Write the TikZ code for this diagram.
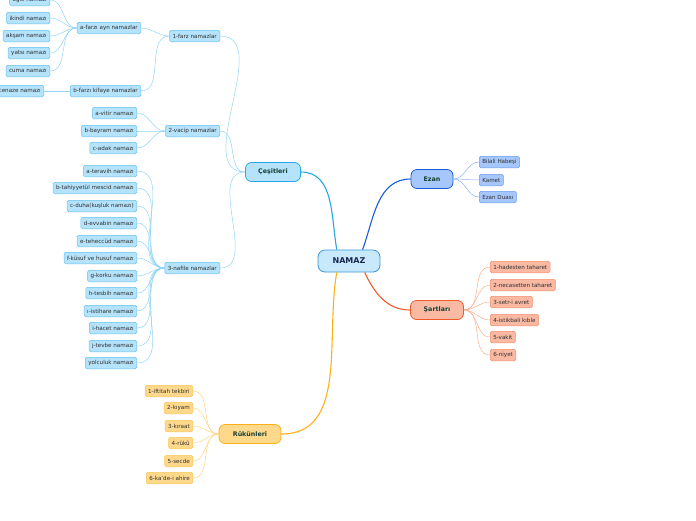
\documentclass[tikz,border=0pt]{standalone}
\usepackage{fontspec}
\setmainfont{DejaVu Sans}
\usetikzlibrary{positioning}

\definecolor{rootfill}{HTML}{C8E9FB}
\definecolor{rootdraw}{HTML}{3C94D6}
\definecolor{roottext}{HTML}{17284F}
\definecolor{maintext}{HTML}{153F32}
\definecolor{leaftext}{HTML}{2E2E2E}
\definecolor{cline}{HTML}{27A6E0}
\definecolor{cfill}{HTML}{B5E3FB}
\definecolor{cdraw}{HTML}{63C2EE}
\definecolor{cwire}{HTML}{92D5F4}
\definecolor{eline}{HTML}{1A5BD6}
\definecolor{efill}{HTML}{A6C7FB}
\definecolor{edraw}{HTML}{6D9BEE}
\definecolor{ewire}{HTML}{8EB2F1}
\definecolor{sline}{HTML}{F05A28}
\definecolor{sfill}{HTML}{F9B9A3}
\definecolor{sdraw}{HTML}{F48D69}
\definecolor{swire}{HTML}{F8AE94}
\definecolor{rline}{HTML}{FBB117}
\definecolor{rfill}{HTML}{FFD98B}
\definecolor{rdraw}{HTML}{FBC555}
\definecolor{rwire}{HTML}{FDD68A}

\begin{document}
\begin{tikzpicture}[x=1pt,y=-1pt,
  root/.style={draw=rootdraw,fill=rootfill,rounded corners=7pt,line width=0.8pt,
    minimum width=62pt,minimum height=22pt,text=roottext,
    font=\fontsize{8}{9}\selectfont\bfseries},
  topic/.style={rounded corners=6pt,line width=0.8pt,minimum height=19pt,
    text=maintext,font=\fontsize{6.3}{7}\selectfont\bfseries},
  leaf/.style={rounded corners=1.5pt,line width=0.5pt,minimum height=11.5pt,
    inner xsep=3pt,inner ysep=0pt,text=leaftext,font=\fontsize{5.6}{6}\selectfont},
  cleaf/.style={leaf,draw=cdraw,fill=cfill},
  eleaf/.style={leaf,draw=edraw,fill=efill},
  sleaf/.style={leaf,draw=sdraw,fill=sfill},
  rleaf/.style={leaf,draw=rdraw,fill=rfill},
  wire/.style={line width=0.5pt}]
\useasboundingbox (0,0) rectangle (696,520);

% center and main topics
\node[root] (namaz) at (349,261) {NAMAZ};
\node[topic,draw=cline,fill=cfill,minimum width=55pt] (cesit) at (273,172) {Çeşitleri};
\node[topic,draw=eline,fill=efill,minimum width=42pt] (ezan) at (432,179) {Ezan};
\node[topic,draw=sline,fill=sfill,minimum width=53pt] (sart) at (437,310) {Şartları};
\node[topic,draw=rline,fill=rfill,minimum width=62pt] (rukun) at (250,434) {Rükünleri};

\draw[cline,line width=1.1pt] (namaz.137) to[out=100,in=0] (cesit.east);
\draw[eline,line width=1.1pt] (namaz.40) to[out=70,in=180] (ezan.west);
\draw[sline,line width=1.1pt] (namaz.-36) to[out=-65,in=180] (sart.west);
\draw[rline,line width=1.1pt] (namaz.223) to[out=-100,in=0] (rukun.east);

% Çeşitleri
\node[cleaf,anchor=east] (farz) at (220,36) {1-farz namazlar};
\node[cleaf,anchor=east] (vacip) at (220,131) {2-vacip namazlar};
\node[cleaf,anchor=east] (nafile) at (220,268) {3-nafile namazlar};
\draw[wire,cwire] (cesit.west) to[out=180,in=0] (farz.east);
\draw[wire,cwire] (cesit.west) to[out=180,in=0] (vacip.east);
\draw[wire,cwire] (cesit.west) to[out=180,in=0] (nafile.east);

\node[cleaf,anchor=east] (ayn) at (141,28) {a-farzı ayn namazlar};
\node[cleaf,anchor=east] (kifaye) at (141,91) {b-farzı kifaye namazlar};
\draw[wire,cwire] (farz.west) to[out=180,in=0] (ayn.east);
\draw[wire,cwire] (farz.west) to[out=180,in=0] (kifaye.east);

\node[cleaf,anchor=east] (ogle) at (50,0) {öğle namazı};
\node[cleaf,anchor=east] (ikindi) at (50,18) {ikindi namazı};
\node[cleaf,anchor=east] (aksam) at (50,36) {akşam namazı};
\node[cleaf,anchor=east] (yatsi) at (50,53) {yatsı namazı};
\node[cleaf,anchor=east] (cuma) at (50,71) {cuma namazı};
\node[cleaf,anchor=east] (cenaze) at (44,91) {cenaze namazı};
\draw[wire,cwire] (ayn.west) to[out=180,in=0] (ogle.east);
\draw[wire,cwire] (ayn.west) to[out=180,in=0] (ikindi.east);
\draw[wire,cwire] (ayn.west) to[out=180,in=0] (aksam.east);
\draw[wire,cwire] (ayn.west) to[out=180,in=0] (yatsi.east);
\draw[wire,cwire] (ayn.west) to[out=180,in=0] (cuma.east);
\draw[wire,cwire] (kifaye.west) -- (cenaze.east);

\node[cleaf,anchor=east] (vitir) at (137,113) {a-vitir namazı};
\node[cleaf,anchor=east] (bayram) at (137,131) {b-bayram namazı};
\node[cleaf,anchor=east] (adak) at (137,148) {c-adak namazı};
\draw[wire,cwire] (vacip.west) to[out=180,in=0] (vitir.east);
\draw[wire,cwire] (vacip.west) to[out=180,in=0] (bayram.east);
\draw[wire,cwire] (vacip.west) to[out=180,in=0] (adak.east);

\node[cleaf,anchor=east] (n1) at (137,171) {a-teravih namazı};
\node[cleaf,anchor=east] (n2) at (137,188) {b-tahiyyetül mescid namazı};
\node[cleaf,anchor=east] (n3) at (137,206) {c-duha(kuşluk namazı)};
\node[cleaf,anchor=east] (n4) at (137,223) {d-evvabin namazı};
\node[cleaf,anchor=east] (n5) at (137,241) {e-teheccüd namazı};
\node[cleaf,anchor=east] (n6) at (137,258) {f-küsuf ve husuf namazı};
\node[cleaf,anchor=east] (n7) at (137,276) {g-korku namazı};
\node[cleaf,anchor=east] (n8) at (137,293) {h-tesbih namazı};
\node[cleaf,anchor=east] (n9) at (137,311) {ı-istihare namazı};
\node[cleaf,anchor=east] (n10) at (137,328) {i-hacet namazı};
\node[cleaf,anchor=east] (n11) at (137,346) {j-tevbe namazı};
\node[cleaf,anchor=east] (n12) at (137,363) {yolculuk namazı};
\draw[wire,cwire] (nafile.west) to[out=180,in=0] (n1.east);
\draw[wire,cwire] (nafile.west) to[out=180,in=0] (n2.east);
\draw[wire,cwire] (nafile.west) to[out=180,in=0] (n3.east);
\draw[wire,cwire] (nafile.west) to[out=180,in=0] (n4.east);
\draw[wire,cwire] (nafile.west) to[out=180,in=0] (n5.east);
\draw[wire,cwire] (nafile.west) to[out=180,in=0] (n6.east);
\draw[wire,cwire] (nafile.west) to[out=180,in=0] (n7.east);
\draw[wire,cwire] (nafile.west) to[out=180,in=0] (n8.east);
\draw[wire,cwire] (nafile.west) to[out=180,in=0] (n9.east);
\draw[wire,cwire] (nafile.west) to[out=180,in=0] (n10.east);
\draw[wire,cwire] (nafile.west) to[out=180,in=0] (n11.east);
\draw[wire,cwire] (nafile.west) to[out=180,in=0] (n12.east);

% Ezan
\node[eleaf,anchor=west] (bilal) at (479,162) {Bilali Habeşi};
\node[eleaf,anchor=west] (kamet) at (479,180) {Kamet};
\node[eleaf,anchor=west] (dua) at (479,197) {Ezan Duası};
\draw[wire,ewire] (ezan.east) to[out=0,in=180] (bilal.west);
\draw[wire,ewire] (ezan.east) to[out=0,in=180] (kamet.west);
\draw[wire,ewire] (ezan.east) to[out=0,in=180] (dua.west);

% Şartları
\node[sleaf,anchor=west] (s1) at (490,267) {1-hadesten taharet};
\node[sleaf,anchor=west] (s2) at (490,285) {2-necasetten taharet};
\node[sleaf,anchor=west] (s3) at (490,302) {3-setr-i avret};
\node[sleaf,anchor=west] (s4) at (490,320) {4-istikbali kıble};
\node[sleaf,anchor=west] (s5) at (490,337) {5-vakit};
\node[sleaf,anchor=west] (s6) at (490,355) {6-niyet};
\draw[wire,swire] (sart.east) to[out=0,in=180] (s1.west);
\draw[wire,swire] (sart.east) to[out=0,in=180] (s2.west);
\draw[wire,swire] (sart.east) to[out=0,in=180] (s3.west);
\draw[wire,swire] (sart.east) to[out=0,in=180] (s4.west);
\draw[wire,swire] (sart.east) to[out=0,in=180] (s5.west);
\draw[wire,swire] (sart.east) to[out=0,in=180] (s6.west);

% Rükünleri
\node[rleaf,anchor=east] (r1) at (193,391) {1-iftitah tekbiri};
\node[rleaf,anchor=east] (r2) at (193,408) {2-kıyam};
\node[rleaf,anchor=east] (r3) at (193,426) {3-kıraat};
\node[rleaf,anchor=east] (r4) at (193,443) {4-rükû};
\node[rleaf,anchor=east] (r5) at (193,461) {5-secde};
\node[rleaf,anchor=east] (r6) at (193,478) {6-ka'de-i ahire};
\draw[wire,rwire] (rukun.west) to[out=180,in=0] (r1.east);
\draw[wire,rwire] (rukun.west) to[out=180,in=0] (r2.east);
\draw[wire,rwire] (rukun.west) to[out=180,in=0] (r3.east);
\draw[wire,rwire] (rukun.west) to[out=180,in=0] (r4.east);
\draw[wire,rwire] (rukun.west) to[out=180,in=0] (r5.east);
\draw[wire,rwire] (rukun.west) to[out=180,in=0] (r6.east);
\end{tikzpicture}
\end{document}
